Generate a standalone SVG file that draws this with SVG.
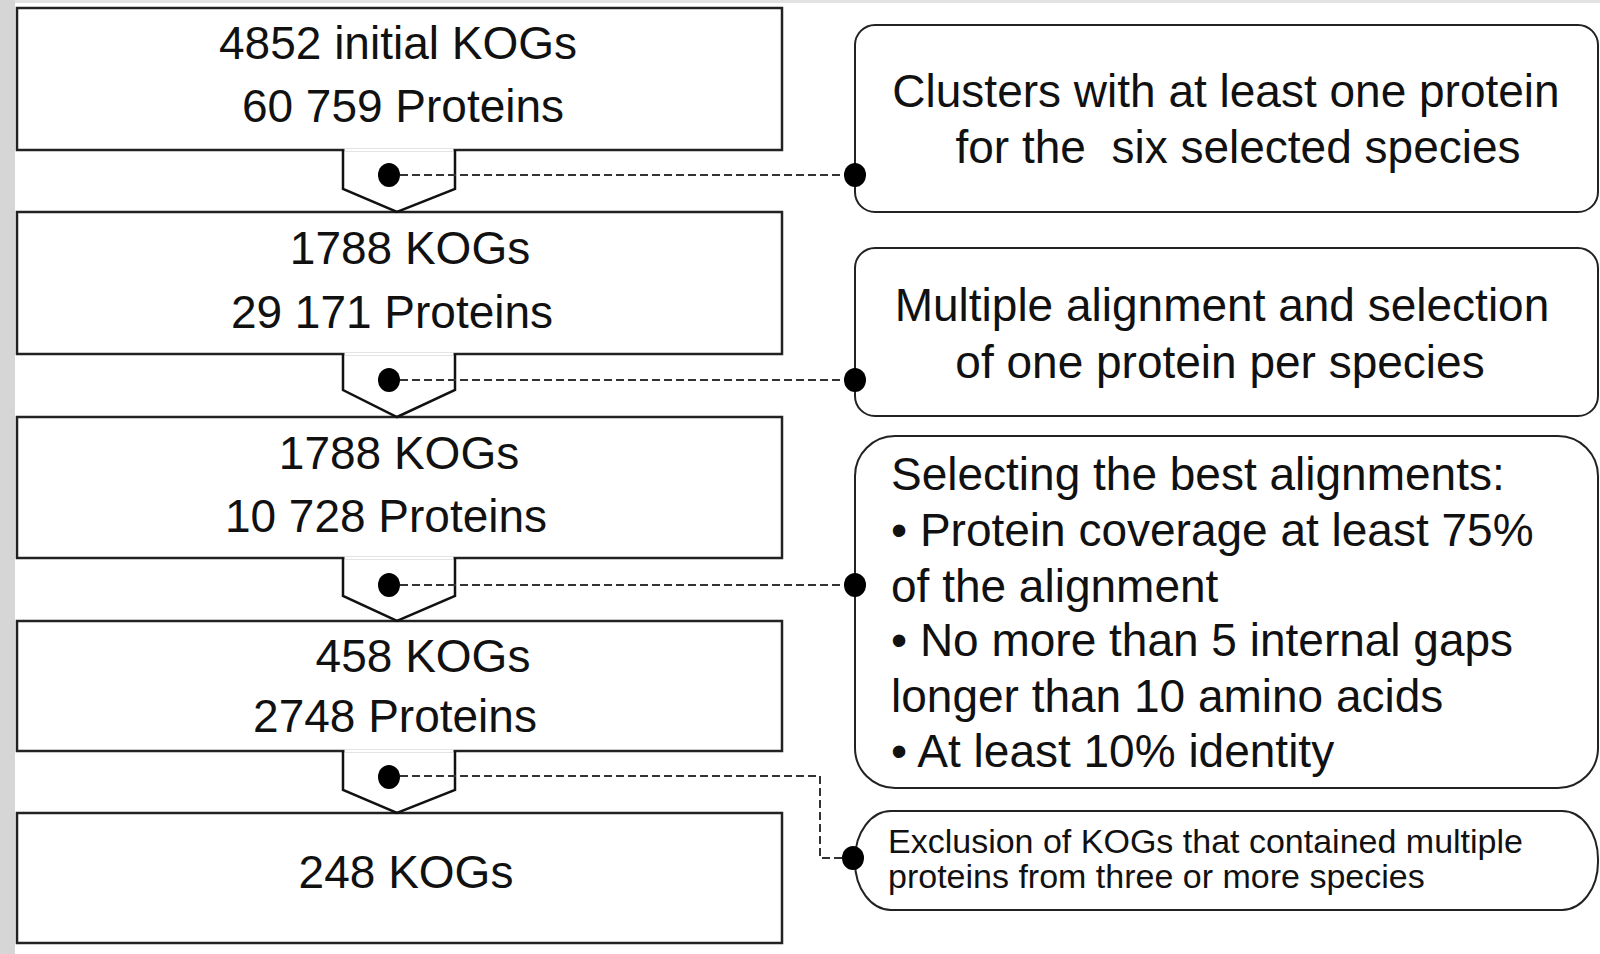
<svg xmlns="http://www.w3.org/2000/svg" width="1600" height="954" viewBox="0 0 1600 954">
<style>
.box{fill:#fff;stroke:#222;stroke-width:2.5}
.rbox{fill:#fff;stroke:#222;stroke-width:2}
.notch{fill:none;stroke:#111;stroke-width:2.5;stroke-linejoin:miter}
.dash{fill:none;stroke:#333;stroke-width:2;stroke-dasharray:8 4}
.dot{fill:#000}
.t{font-family:"Liberation Sans",Arial,sans-serif;font-size:46px;fill:#111}
.c{text-anchor:middle}
.s{font-family:"Liberation Sans",Arial,sans-serif;font-size:34px;fill:#111}
</style>
<rect x="0" y="0" width="1600" height="954" fill="#fff"/>
<rect x="0" y="0" width="1600" height="3" fill="#e2e2e2"/>
<rect x="0" y="0" width="15" height="954" fill="#d6d6d6"/>

<g id="step1">
<rect class="box" x="17" y="8" width="765" height="142"/>
<text class="t c" x="398" y="59">4852 initial KOGs</text>
<text class="t c" x="403" y="122">60 759 Proteins</text>
</g>
<g id="step2">
<rect class="box" x="17" y="212" width="765" height="142"/>
<text class="t c" x="410" y="264">1788 KOGs</text>
<text class="t c" x="392" y="328">29 171 Proteins</text>
</g>
<g id="step3">
<rect class="box" x="17" y="417" width="765" height="141"/>
<text class="t c" x="399" y="469">1788 KOGs</text>
<text class="t c" x="386" y="532">10 728 Proteins</text>
</g>
<g id="step4">
<rect class="box" x="17" y="621" width="765" height="130"/>
<text class="t c" x="423" y="672">458 KOGs</text>
<text class="t c" x="395" y="732">2748 Proteins</text>
</g>
<g id="step5">
<rect class="box" x="17" y="813" width="765" height="130"/>
<text class="t c" x="406" y="888">248 KOGs</text>
</g>

<g id="filter1">
<rect class="rbox" x="855" y="25" width="743" height="187" rx="20" ry="20"/>
<text class="t c" x="1226" y="107">Clusters with at least one protein</text>
<text class="t c" x="1238" y="163">for the&#160; six selected species</text>
</g>
<g id="filter2">
<rect class="rbox" x="855" y="248" width="743" height="168" rx="20" ry="20"/>
<text class="t c" x="1222" y="321">Multiple alignment and selection</text>
<text class="t c" x="1220" y="378">of one protein per species</text>
</g>
<g id="filter3">
<rect class="rbox" x="855" y="436" width="743" height="352" rx="40" ry="40"/>
<text class="t" x="891" y="490">Selecting the best alignments:</text>
<text class="t" x="891" y="546">• Protein coverage at least 75%</text>
<text class="t" x="891" y="602">of the alignment</text>
<text class="t" x="891" y="656">• No more than 5 internal gaps</text>
<text class="t" x="891" y="712">longer than 10 amino acids</text>
<text class="t" x="891" y="767">• At least 10% identity</text>
</g>
<g id="filter4">
<rect class="rbox" x="855" y="811" width="743" height="99" rx="36" ry="48"/>
<text class="s" x="888" y="853">Exclusion of KOGs that contained multiple</text>
<text class="s" x="888" y="888">proteins from three or more species</text>
</g>

<g id="connectors">
<polyline class="notch" points="343,150 343,189 397,212 455,189 455,150"/>
<polyline class="notch" points="343,354 343,390 397,417 455,390 455,354"/>
<polyline class="notch" points="343,558 343,596 397,621 455,596 455,558"/>
<polyline class="notch" points="343,751 343,790 397,813 455,790 455,751"/>
<rect x="344.5" y="148.5" width="109" height="3" fill="#fff"/>
<rect x="344.5" y="352.5" width="109" height="3" fill="#fff"/>
<rect x="344.5" y="556.5" width="109" height="3" fill="#fff"/>
<rect x="344.5" y="749.5" width="109" height="3" fill="#fff"/>
<line class="dash" x1="400" y1="175" x2="855" y2="175"/>
<line class="dash" x1="400" y1="380" x2="855" y2="380"/>
<line class="dash" x1="400" y1="585" x2="855" y2="585"/>
<polyline class="dash" points="400,776 820,776 820,858 855,858"/>
<ellipse class="dot" cx="389" cy="175" rx="11" ry="12"/>
<ellipse class="dot" cx="389" cy="380" rx="11" ry="12"/>
<ellipse class="dot" cx="389" cy="585" rx="11" ry="12"/>
<ellipse class="dot" cx="389" cy="777" rx="11" ry="12"/>
<ellipse class="dot" cx="855" cy="175" rx="11" ry="12"/>
<ellipse class="dot" cx="855" cy="380" rx="11" ry="12"/>
<ellipse class="dot" cx="855" cy="585" rx="11" ry="12"/>
<ellipse class="dot" cx="853" cy="858" rx="11" ry="12"/>
</g>
</svg>
